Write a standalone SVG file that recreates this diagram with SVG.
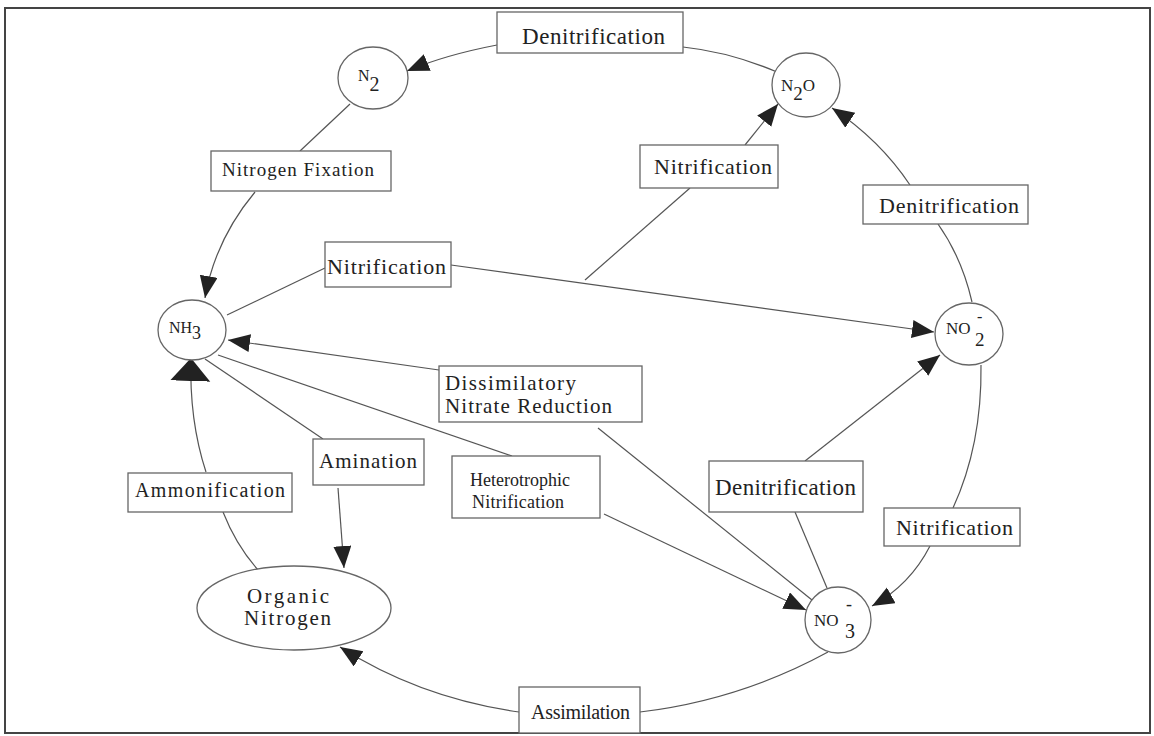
<svg xmlns="http://www.w3.org/2000/svg" width="1154" height="736" viewBox="0 0 1154 736">
<style>
.box{fill:#fff;stroke:#666;stroke-width:1.3}
.node{fill:#fff;stroke:#666;stroke-width:1.3}
.t{font-family:"Liberation Serif","Times New Roman",serif;fill:#222}
.c{fill:none;stroke:#555;stroke-width:1.2}
</style>
<defs>
<marker id="ah" markerUnits="userSpaceOnUse" markerWidth="24" markerHeight="20" refX="22" refY="9" orient="auto"><path d="M0,0 L22,9 L0,18 z" fill="#222"/></marker>
<marker id="ahb" markerUnits="userSpaceOnUse" markerWidth="26" markerHeight="44" refX="23" refY="20" orient="auto"><path d="M0,0 L23,20 L0,40 z" fill="#222"/></marker>
</defs>
<rect width="1154" height="736" fill="#fff"/>
<rect x="5" y="8" width="1145" height="725" fill="none" stroke="#444" stroke-width="2"/>
<g id="connectors">
<path class="c" d="M777,72 Q730,52 683,47"/>
<path class="c" d="M497,45 Q445,55 407,71" marker-end="url(#ah)"/>
<path class="c" d="M350,104 L300,151"/>
<path class="c" d="M255,192 Q215,240 205,298" marker-end="url(#ah)"/>
<path class="c" d="M227,315 L325,268"/>
<path class="c" d="M451,265 L934,332" marker-end="url(#ah)"/>
<path class="c" d="M585,280 L690,188"/>
<path class="c" d="M745,145 L778,104" marker-end="url(#ah)"/>
<path class="c" d="M972,302 Q962,258 938,224"/>
<path class="c" d="M910,185 Q880,140 832,108" marker-end="url(#ah)"/>
<path class="c" d="M812,600 L598,428"/>
<path class="c" d="M439,370 L228,340" marker-end="url(#ah)"/>
<path class="c" d="M218,355 L512,456"/>
<path class="c" d="M604,514 L806,610" marker-end="url(#ah)"/>
<path class="c" d="M205,359 L323,439"/>
<path class="c" d="M338,488 L344,568" marker-end="url(#ah)"/>
<path class="c" d="M258,570 Q236,545 223,512"/>
<path class="c" d="M206,472 Q189,420 191,358" marker-end="url(#ahb)"/>
<path class="c" d="M827,588 L795,512"/>
<path class="c" d="M805,461 L940,355" marker-end="url(#ah)"/>
<path class="c" d="M981,365 Q982,445 953,508"/>
<path class="c" d="M930,546 Q910,585 872,606" marker-end="url(#ah)"/>
<path class="c" d="M828,652 Q740,700 640,712"/>
<path class="c" d="M519,712 Q420,698 340,647" marker-end="url(#ah)"/>
</g>
<g id="n2"><ellipse class="node" cx="373" cy="78" rx="35" ry="31"/><text class="t" x="358" y="81" font-size="16">N<tspan dy="10" font-size="20">2</tspan></text></g>
<g id="n2o"><ellipse class="node" cx="806" cy="85" rx="34" ry="32"/><text class="t" x="781" y="91" font-size="17">N<tspan dy="9" font-size="19">2</tspan><tspan dy="-9">O</tspan></text></g>
<g id="nh3"><ellipse class="node" cx="192" cy="330" rx="34" ry="30"/><text class="t" x="169" y="333" font-size="16">NH<tspan dy="6" font-size="18">3</tspan></text></g>
<g id="no2"><ellipse class="node" cx="969" cy="334" rx="34" ry="31"/><text class="t" x="946" y="334" font-size="17">NO</text><text class="t" x="977" y="322" font-size="16">-</text><text class="t" x="975" y="346" font-size="19">2</text></g>
<g id="no3"><ellipse class="node" cx="838" cy="620" rx="33" ry="33"/><text class="t" x="814" y="626" font-size="17">NO</text><text class="t" x="846" y="610" font-size="18">-</text><text class="t" x="845" y="638" font-size="20">3</text></g>
<g id="orgn"><ellipse class="node" cx="294" cy="608" rx="97" ry="42"/><text class="t" x="247" y="603" font-size="21" textLength="82" lengthAdjust="spacing">Organic</text><text class="t" x="244" y="625" font-size="21" textLength="87" lengthAdjust="spacing">Nitrogen</text></g>
<g id="l-denit-top"><rect class="box" x="497" y="12" width="186" height="41"/><text class="t" x="522" y="44" font-size="23" textLength="143" lengthAdjust="spacing">Denitrification</text></g>
<g id="l-nfix"><rect class="box" x="211" y="151" width="180" height="40"/><text class="t" x="222" y="176" font-size="19" textLength="152" lengthAdjust="spacing">Nitrogen Fixation</text></g>
<g id="l-nitr-up"><rect class="box" x="640" y="145" width="138" height="43"/><text class="t" x="654" y="174" font-size="22" textLength="118" lengthAdjust="spacing">Nitrification</text></g>
<g id="l-denit-right"><rect class="box" x="863" y="185" width="165" height="39"/><text class="t" x="879" y="213" font-size="22" textLength="140" lengthAdjust="spacing">Denitrification</text></g>
<g id="l-nitr-mid"><rect class="box" x="325" y="242" width="126" height="45"/><text class="t" x="327" y="274" font-size="22" textLength="119" lengthAdjust="spacing">Nitrification</text></g>
<g id="l-dnr"><rect class="box" x="439" y="366" width="203" height="56"/><text class="t" x="445" y="390" font-size="21" textLength="131" lengthAdjust="spacing">Dissimilatory</text><text class="t" x="445" y="413" font-size="21" textLength="167" lengthAdjust="spacing">Nitrate Reduction</text></g>
<g id="l-amin"><rect class="box" x="313" y="439" width="111" height="46"/><text class="t" x="319" y="468" font-size="21" textLength="98" lengthAdjust="spacing">Amination</text></g>
<g id="l-hetero"><rect class="box" x="452" y="456" width="148" height="62"/><text class="t" x="470" y="486" font-size="18" textLength="100" lengthAdjust="spacing">Heterotrophic</text><text class="t" x="472" y="508" font-size="18" textLength="92" lengthAdjust="spacing">Nitrification</text></g>
<g id="l-ammon"><rect class="box" x="128" y="473" width="164" height="39"/><text class="t" x="135" y="497" font-size="20" textLength="150" lengthAdjust="spacing">Ammonification</text></g>
<g id="l-denit-low"><rect class="box" x="709" y="461" width="154" height="51"/><text class="t" x="715" y="495" font-size="23" textLength="141" lengthAdjust="spacing">Denitrification</text></g>
<g id="l-nitr-low"><rect class="box" x="884" y="508" width="136" height="38"/><text class="t" x="896" y="535" font-size="22" textLength="117" lengthAdjust="spacing">Nitrification</text></g>
<g id="l-assim"><rect class="box" x="519" y="687" width="121" height="46"/><text class="t" x="531" y="719" font-size="20" textLength="99" lengthAdjust="spacing">Assimilation</text></g>
</svg>
